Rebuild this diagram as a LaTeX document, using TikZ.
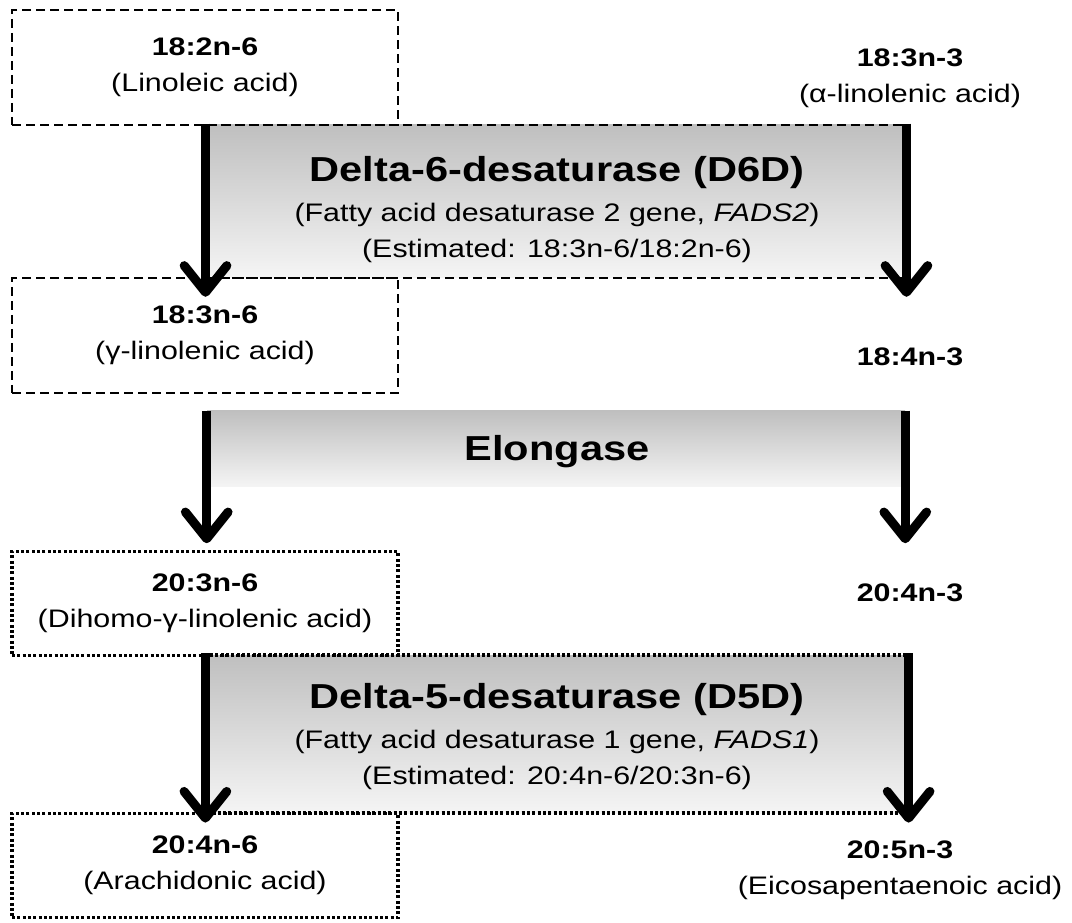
\documentclass[tikz,border=0pt]{standalone}
\usepackage{fontspec}
\setmainfont{Liberation Sans}[FakeStretch=1.2]
\usetikzlibrary{arrows.meta}

\begin{document}
\begin{tikzpicture}[x=0.75pt,y=-0.75pt,
  acidbox/.style={draw,minimum width=289.5pt,align=center,inner sep=0pt},
  dashed box/.style={line width=2.2pt,dash pattern=on 6.5pt off 4pt},
  dotted box/.style={line width=2.4pt,dash pattern=on 2.2pt off 1.8pt},
  dashbox/.style={acidbox,dashed box,minimum height=86.25pt},
  dotbox/.style={acidbox,dotted box,minimum height=78pt},
  enzyme/.style={top color=gray!50,bottom color=gray!8,minimum width=523.5pt,inner sep=0pt},
  acid/.style={align=center,font=\fontsize{19}{27}\selectfont},
  title/.style={font=\fontsize{26}{30}\selectfont\bfseries},
  flow/.style={line width=6.75pt,-{Straight Barb[length=20pt,width=32pt,round]}}]
  \useasboundingbox (0,0) rectangle (1072,923);

  % enzyme steps
  \node[enzyme,draw,dashed box,minimum height=114.75pt] (d6d) at (556,201.5) {};
  \node[acid] (d6dtext) at (557,210)
    {{\fontsize{26}{30}\selectfont\bfseries Delta-6-desaturase (D6D)}\\[3pt]
     (Fatty acid desaturase 2 gene, \textit{FADS2})\\(Estimated: 18:3n-6/18:2n-6)};
  \node[enzyme,minimum height=57pt] (elo) at (556,449) {};
  \node[title] (elotext) at (557,452) {Elongase};
  \node[enzyme,draw,dotted box,minimum height=118.5pt,minimum width=525pt] (d5d) at (557,734) {};
  \node[acid] (d5dtext) at (557,737)
    {{\fontsize{26}{30}\selectfont\bfseries Delta-5-desaturase (D5D)}\\[3pt]
     (Fatty acid desaturase 1 gene, \textit{FADS1})\\(Estimated: 20:4n-6/20:3n-6)};

  % n-6 series
  \node[dashbox,acid] (la) at (205,67.5) {\textbf{18:2n-6}\\(Linoleic acid)};
  \node[dashbox,acid] (lb) at (205,335.5) {\textbf{18:3n-6}\\(γ-linolenic acid)};
  \node[dotbox,acid] (lc) at (205,603.5) {\textbf{20:3n-6}\\(Dihomo-γ-linolenic acid)};
  \node[dotbox,acid] (ld) at (205,865.5) {\textbf{20:4n-6}\\(Arachidonic acid)};

  % n-3 series
  \node[acid] (ra) at (910,78) {\textbf{18:3n-3}\\(α-linolenic acid)};
  \node[acid] (rb) at (910,357) {\textbf{18:4n-3}};
  \node[acid] (rc) at (910,593) {\textbf{20:4n-3}};
  \node[acid] (rd) at (900,870) {\textbf{20:5n-3}\\(Eicosapentaenoic acid)};

  \draw[flow] (d6d.north west) -- ([yshift=-13pt]d6d.south west);
  \draw[flow] (d6d.north east) -- ([yshift=-13pt]d6d.south east);
  \draw[flow] (elo.north west) -- ([yshift=5pt]elo.west |- lc.north);
  \draw[flow] (elo.north east) -- ([yshift=5pt]elo.east |- lc.north);
  \draw[flow] (d5d.north west) -- ([yshift=-6pt]d5d.south west);
  \draw[flow] (d5d.north east) -- ([yshift=-6pt]d5d.south east);
\end{tikzpicture}
\end{document}
